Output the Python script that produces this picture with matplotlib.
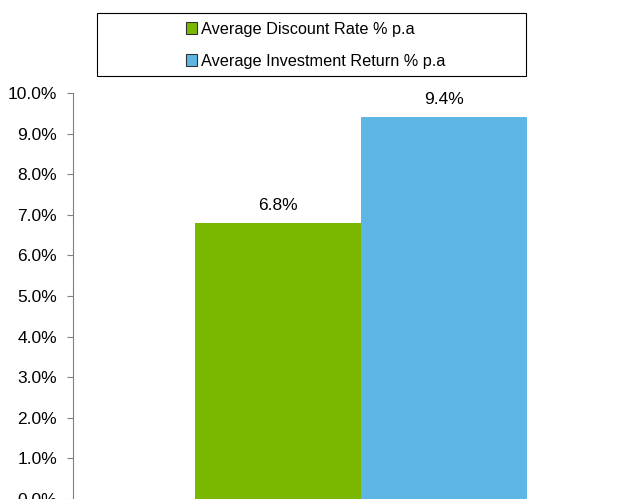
import matplotlib.pyplot as plt
from matplotlib.patches import Rectangle, Patch

plt.rcParams['font.family'] = ['Liberation Sans', 'DejaVu Sans']

series = ['Average Discount Rate % p.a', 'Average Investment Return % p.a']
values = [6.8, 9.4]
colors = ['#7ab800', '#5eb6e4']
yticks = [0, 1, 2, 3, 4, 5, 6, 7, 8, 9, 10]

fig = plt.figure(figsize=(6.33, 4.99), dpi=100)
ax = fig.add_axes([73 / 633, 0, 560 / 633, 406 / 499])

width = 0.3
offsets = [-width / 2, width / 2]
for off, v, c in zip(offsets, values, colors):
    ax.bar(off, v, width=width, color=c, edgecolor='none')
    ax.annotate(f'{v:.1f}%', (off, v), xytext=(0, 9.4), textcoords='offset points',
                ha='center', va='baseline', fontsize=12.5)

ax.set_ylim(0, 10)
ax.set_xlim(-0.521, 0.492)
ax.set_yticks(yticks)
ax.set_yticklabels([f'{t:.1f}%' for t in yticks], fontsize=12.5)
ax.set_xticks([])
for s in ['top', 'right', 'bottom']:
    ax.spines[s].set_visible(False)
ax.spines['left'].set_color('#808080')
ax.tick_params(axis='y', direction='out', length=4, color='#808080', pad=7.5)

# legend frame
fig.patches.append(Rectangle((97 / 633, 1 - 76 / 499), 429 / 633, 63 / 499,
                             transform=fig.transFigure, fill=False,
                             edgecolor='black', linewidth=0.8))
handles = [Patch(facecolor=c, edgecolor='#333333', linewidth=0.8) for c in colors]
fig.legend(handles, series, loc='upper left', frameon=False,
           bbox_to_anchor=(171 / 633, 1 - 7 / 499), fontsize=11.7,
           handlelength=0.7, handleheight=0.7, handletextpad=0.25,
           labelspacing=1.05)

fig.savefig('out.png', dpi=100)
